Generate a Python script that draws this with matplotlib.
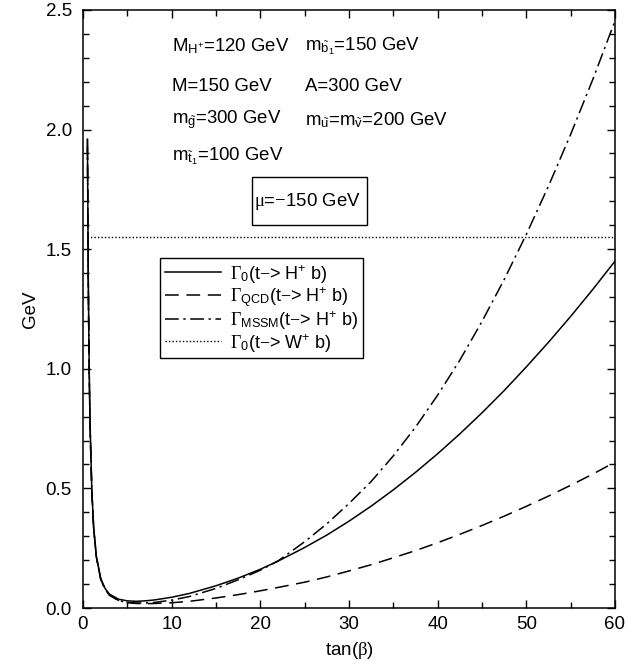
import matplotlib
matplotlib.use("Agg")
import matplotlib.pyplot as plt
from matplotlib.ticker import MultipleLocator, FormatStrFormatter
from matplotlib.patches import Rectangle

plt.rcParams['font.family'] = ['Liberation Sans', 'DejaVu Sans']
plt.rcParams['mathtext.fontset'] = 'custom'
plt.rcParams['mathtext.rm'] = 'Liberation Serif'
plt.rcParams['mathtext.it'] = 'Liberation Serif:italic'
plt.rcParams['mathtext.sf'] = 'Liberation Sans'

# ---- data ----
tanb = [0.5, 0.6, 0.7, 0.8, 1.0, 1.2, 1.5, 2, 2.5, 3, 4, 5, 6, 7, 8, 10, 12, 15,
        17.5, 20, 22, 25, 27.5, 30, 32.5, 35, 37.5, 40, 42.5, 45, 47.5, 50,
        52.5, 55, 57.5, 60]
gamma0 = [1.96, 1.36, 1.00, 0.766, 0.49, 0.340, 0.219, 0.124, 0.081, 0.058, 0.037,
          0.030, 0.028, 0.030, 0.0335, 0.045, 0.061, 0.093,
          0.125, 0.162, 0.196, 0.253, 0.305, 0.363, 0.426, 0.494, 0.567, 0.645,
          0.728, 0.816, 0.909, 1.008, 1.111, 1.219, 1.332, 1.45]
gamma_qcd = [1.93, 1.33, 0.98, 0.75, 0.48, 0.333, 0.213, 0.120, 0.077, 0.054, 0.032,
             0.023, 0.019, 0.018, 0.019, 0.022, 0.028, 0.042,
             0.056, 0.072, 0.086, 0.108, 0.130, 0.155, 0.181, 0.210, 0.240, 0.273,
             0.308, 0.345, 0.384, 0.425, 0.468, 0.513, 0.560, 0.61]
gamma_mssm = [1.96, 1.35, 0.99, 0.76, 0.485, 0.336, 0.214, 0.120, 0.077, 0.053, 0.031,
              0.023, 0.021, 0.021, 0.023, 0.033, 0.048, 0.082,
              0.118, 0.158, 0.197, 0.277, 0.352, 0.437, 0.529, 0.636, 0.756, 0.890,
              1.036, 1.198, 1.373, 1.562, 1.764, 1.980, 2.210, 2.454]
tanb_w = [0.5, 60]
gamma_w = [1.55, 1.55]

labels = [r'$\Gamma_{\mathsf{0}}$(t$-$> H$^{\mathsf{+}}$ b)',
          r'$\Gamma_{\mathsf{QCD}}$(t$-$> H$^{\mathsf{+}}$ b)',
          r'$\Gamma_{\mathsf{MSSM}}$(t$-$> H$^{\mathsf{+}}$ b)',
          r'$\Gamma_{\mathsf{0}}$(t$-$> W$^{\mathsf{+}}$ b)']

params_left = [r'M$_{\mathsf{H^{+}}}$=120 GeV', 'M=150 GeV',
               r'm$_{\tilde{\mathsf{g}}}$=300 GeV', r'm$_{\tilde{\mathsf{t}}_{\mathsf{1}}}$=100 GeV']
params_right = [r'm$_{\tilde{\mathsf{b}}_{\mathsf{1}}}$=150 GeV', 'A=300 GeV',
                r'm$_{\tilde{\mathsf{u}}}$=m$_{\tilde{\mathsf{v}}}$=200 GeV']
mu_text = r'$\mathrm{\mu}$=$-$150 GeV'

fig = plt.figure(figsize=(6.35, 6.64), dpi=100)
ax = fig.add_axes([0.1307, 0.0843, 0.8378, 0.9007])

ax.plot(tanb, gamma0, color='black', lw=1.1, ls='-', label=labels[0])
ax.plot(tanb, gamma_qcd, color='black', lw=1.1, ls=(0, (9, 5)), label=labels[1])
ax.plot(tanb, gamma_mssm, color='black', lw=1.1, ls=(0, (9, 3, 1.5, 3)), label=labels[2])
ax.plot(tanb_w, gamma_w, color='black', lw=1.0, ls=(0, (1, 1.5)), label=labels[3])

ax.set_xlim(0, 60)
ax.set_ylim(0, 2.5)
ax.xaxis.set_major_locator(MultipleLocator(10))
ax.xaxis.set_minor_locator(MultipleLocator(5))
ax.yaxis.set_major_locator(MultipleLocator(0.5))
ax.yaxis.set_minor_locator(MultipleLocator(0.1))
ax.yaxis.set_major_formatter(FormatStrFormatter('%.1f'))
ax.tick_params(which='both', direction='in', top=True, right=True, labelsize=13.5)
ax.tick_params(which='major', length=6, width=1)
ax.tick_params(which='minor', length=4, width=1)
ax.tick_params(axis='y', pad=8)
ax.tick_params(axis='x', pad=6)
for s in ax.spines.values():
    s.set_linewidth(1.1)

ax.set_xlabel(r'tan($\mathrm{\beta}$)', fontsize=13.5, labelpad=5)
ax.set_ylabel('GeV', fontsize=13.5, labelpad=5)

ys = [2.35, 2.18, 2.04, 1.89]
for i, t in enumerate(params_left):
    ax.text(10.0, ys[i], t, fontsize=13.4, ha='left', va='center')
for i, t in enumerate(params_right):
    ax.text(25.0, ys[i], t, fontsize=13.4, ha='left', va='center')

ax.add_patch(Rectangle((19.05, 1.60), 12.97, 0.20, fill=False, ec='black', lw=1.0))
ax.text(19.3, 1.70, mu_text, fontsize=13.4, ha='left', va='center')

leg = ax.legend(loc='upper left', bbox_to_anchor=(0.145, 0.585), fontsize=13,
                frameon=True, fancybox=False, edgecolor='black', framealpha=1,
                handlelength=3.1, handletextpad=0.5, labelspacing=0.02,
                borderpad=0.25, borderaxespad=0)
leg.get_frame().set_linewidth(1.0)

fig.savefig('out.png', dpi=100)
